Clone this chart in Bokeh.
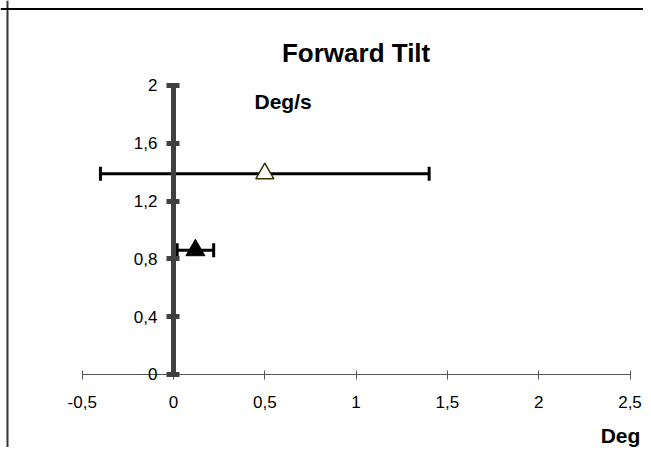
from bokeh.plotting import figure
from bokeh.models import Range1d, FixedTicker, Whisker, TeeHead, Label, ColumnDataSource, Span
from bokeh.embed import file_html
from bokeh.resources import INLINE

# ---- data ----
x_ticks = [-0.5, 0, 0.5, 1, 1.5, 2, 2.5]
x_tick_labels = ["-0,5", "0", "0,5", "1", "1,5", "2", "2,5"]
y_ticks = [0, 0.4, 0.8, 1.2, 1.6, 2]
y_tick_labels = ["0", "0,4", "0,8", "1,2", "1,6", "2"]

series = ["open", "filled"]
deg = [0.5, 0.12]          # x value (Deg)
deg_s = [1.39, 0.86]       # y value (Deg/s)
deg_err = [0.9, 0.1]       # horizontal error

title_text = "Forward Tilt"
y_title = "Deg/s"
x_title = "Deg"

FONT = "Liberation Sans"

# frame covers whole canvas; ranges chosen so that axes land where the reference has them
X0, X1 = -0.9474, 2.5739
Y0, Y1 = -0.5052, 2.5882

p = figure(width=643, height=447, min_border=0,
           x_range=Range1d(X0, X1), y_range=Range1d(Y0, Y1),
           output_backend="svg", toolbar_location=None)
p.grid.visible = False
p.outline_line_color = None
p.background_fill_color = "white"
p.border_fill_color = "white"

# x axis
xa = p.xaxis[0]
xa.fixed_location = 0
xa.bounds = (x_ticks[0], x_ticks[-1])
xa.ticker = FixedTicker(ticks=x_ticks)
xa.major_label_overrides = dict(zip(x_ticks, x_tick_labels))
xa.minor_tick_line_color = None
xa.axis_line_color = "#555555"
xa.axis_line_width = 1
xa.major_tick_line_color = "#555555"
xa.major_tick_in = 4
xa.major_tick_out = 5
xa.major_label_standoff = 17
xa.major_label_text_font = FONT
xa.major_label_text_font_size = "17px"
xa.major_label_text_color = "black"

# y axis
ya = p.yaxis[0]
ya.fixed_location = 0
ya.bounds = (y_ticks[0], y_ticks[-1])
ya.ticker = FixedTicker(ticks=y_ticks)
ya.major_label_overrides = dict(zip(y_ticks, y_tick_labels))
ya.minor_tick_line_color = None
ya.axis_line_color = "#404040"
ya.axis_line_width = 5
ya.major_tick_line_color = "#404040"
ya.major_tick_line_width = 5
ya.major_tick_in = 6
ya.major_tick_out = 7
ya.major_label_standoff = 9
ya.major_label_text_font = FONT
ya.major_label_text_font_size = "17px"
ya.major_label_text_color = "black"

# chart-area border (left and top edges visible)
p.add_layout(Span(location=-0.9091, dimension="height", line_color="#333333", line_width=2))
p.add_layout(Span(location=2.5294, dimension="width", line_color="black", line_width=2))

# error bars
src = ColumnDataSource(dict(
    y=deg_s,
    lo=[d - e for d, e in zip(deg, deg_err)],
    hi=[d + e for d, e in zip(deg, deg_err)],
))
w = Whisker(source=src, base="y", lower="lo", upper="hi", dimension="width",
            line_color="black", line_width=3,
            upper_head=TeeHead(size=14, line_width=3, line_color="black"),
            lower_head=TeeHead(size=14, line_width=3, line_color="black"))
p.add_layout(w)

# markers
p.scatter(x=[deg[0]], y=[deg_s[0]], marker="triangle", size=18,
          fill_color="white", line_color="#333300", line_width=1.5, level="overlay")
p.scatter(x=[deg[1]], y=[deg_s[1]], marker="triangle", size=19,
          fill_color="black", line_color="black", line_width=1, level="overlay")

# texts
p.add_layout(Label(x=1.0, y=2.228, text=title_text, text_align="center",
                   text_baseline="middle", text_font=FONT, text_font_style="bold",
                   text_font_size="26px", text_color="black"))
p.add_layout(Label(x=0.60, y=1.889, text=y_title, text_align="center",
                   text_baseline="middle", text_font=FONT, text_font_style="bold",
                   text_font_size="21px", text_color="black"))
p.add_layout(Label(x=2.448, y=-0.422, text=x_title, text_align="center",
                   text_baseline="middle", text_font=FONT, text_font_style="bold",
                   text_font_size="21px", text_color="black"))

open("out.html", "w").write(file_html(p, INLINE))
